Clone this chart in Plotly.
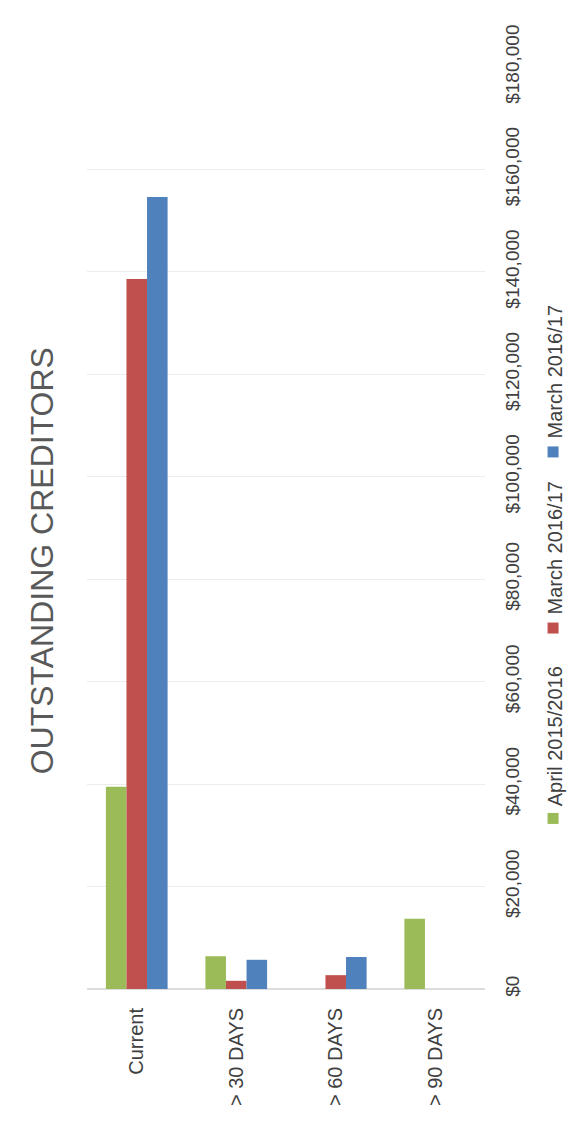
import plotly.graph_objects as go

# Outstanding creditors by ageing bucket
categories = ["Current", "> 30 DAYS", "> 60 DAYS", "> 90 DAYS"]
april_2015_16 = [39500, 6400, None, 13700]
march_2016_17_a = [138600, 1600, 2700, None]
march_2016_17_b = [154600, 5700, 6250, None]

series_names = ["April 2015/2016", "March 2016/17", "March 2016/17"]
series_colors = ["#9bbb59", "#c0504d", "#4f81bd"]
value_ticks = list(range(0, 180001, 20000))
value_tick_text = ["${:,}".format(v) for v in value_ticks]

FONT = "Liberation Sans, Arial, sans-serif"
TEXT = "#404040"

fig = go.Figure()
for name, vals, col in zip(series_names,
                           [april_2015_16, march_2016_17_a, march_2016_17_b],
                           series_colors):
    fig.add_trace(go.Bar(x=categories, y=vals, name=name,
                         marker=dict(color=col, line=dict(width=0)),
                         showlegend=False))

fig.update_layout(
    width=588, height=1124,
    margin=dict(l=87, r=103, t=67, b=135),
    paper_bgcolor="white", plot_bgcolor="white",
    barmode="group", bargap=0.38, bargroupgap=0,
    font=dict(family=FONT, color=TEXT),
)

fig.update_xaxes(
    tickangle=-90, tickfont=dict(size=20, color=TEXT),
    ticks="", ticklabelstandoff=14, showgrid=False,
    showline=False, zeroline=False,
)
fig.update_yaxes(
    range=[0, 180000], tickvals=value_ticks, ticktext=value_tick_text,
    side="right", tickangle=-90, tickfont=dict(size=19, color=TEXT),
    ticklabelstandoff=14, showgrid=True, gridcolor="#ececec", gridwidth=1,
    zeroline=True, zerolinecolor="#dcdcdc", showline=False,
)

# Title, drawn sideways along the left edge
fig.add_annotation(text="OUTSTANDING CREDITORS", xref="paper", yref="paper",
                   x=-0.163, y=0.464, textangle=-90, showarrow=False,
                   font=dict(size=32, color="#595959", family=FONT))

# Sideways legend: coloured square followed by label
legend_pos = [(0.185, 0.196), (0.3915, 0.4035), (0.5825, 0.5945)]
for (sq_y, txt_y), name, col in zip(legend_pos, series_names, series_colors):
    fig.add_shape(type="rect", xref="paper", yref="paper",
                  xsizemode="pixel", ysizemode="pixel",
                  xanchor=1.171, yanchor=sq_y,
                  x0=-5.5, x1=5.5, y0=-5.5, y1=5.5,
                  fillcolor=col, line=dict(width=0))
    fig.add_annotation(text=name, xref="paper", yref="paper",
                       x=1.176, y=txt_y, yanchor="bottom", xanchor="center",
                       textangle=-90, showarrow=False,
                       font=dict(size=20, color=TEXT, family=FONT))

fig.write_html("out.html")
